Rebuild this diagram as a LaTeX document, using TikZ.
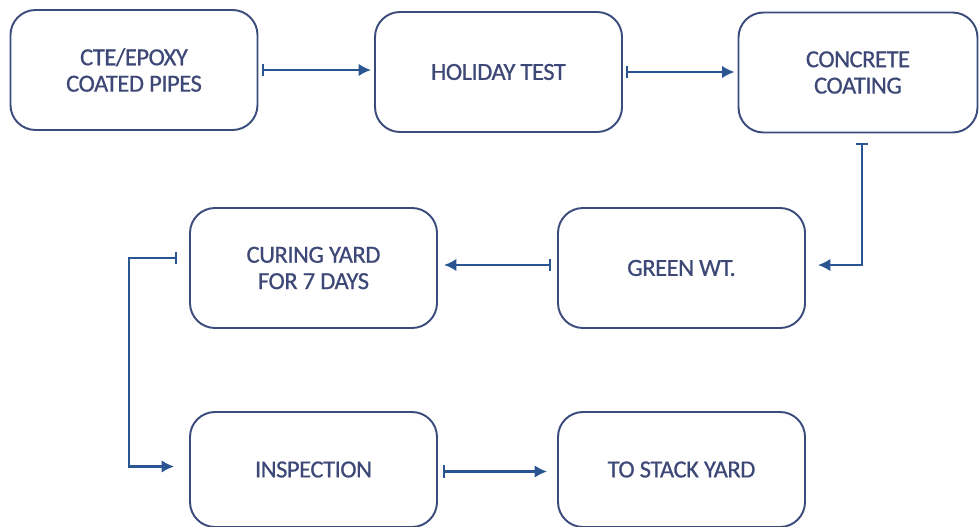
\documentclass[tikz,border=0pt]{standalone}
\usepackage{fontspec}
\setmainfont[FakeBold=0.6, LetterSpace=-2]{Carlito}
\usepackage{xcolor}
\usepackage{tikz}
\usetikzlibrary{arrows.meta, positioning}

\definecolor{boxline}{HTML}{3B4B7C}
\definecolor{flowline}{HTML}{2A5590}
\definecolor{boxtext}{HTML}{3D4877}

\tikzset{
    stage/.style={draw=boxline, line width=1.1pt, rounded corners=0.5cm,
        minimum width=4.94cm, minimum height=2.4cm, align=center,
        text=boxtext, font=\fontsize{14}{15}\selectfont, inner sep=2pt},
    flow/.style={draw=flowline, line width=1.2pt,
        {Bar[width=7pt,line width=1pt]}-{Latex[length=7pt,width=7pt]}}
}

\begin{document}
\begin{tikzpicture}

    \useasboundingbox (0,0) rectangle (19.6,-10.54);

    % ==========================================
    % 1. RIGA SUPERIORE
    % ==========================================
    \node[stage] (cte) at (2.68,-1.40) {CTE/EPOXY\\COATED PIPES};
    \node[stage] (holiday) at (9.97,-1.44) {HOLIDAY TEST};
    \node[stage, minimum width=4.78cm] (concrete) at (17.16,-1.45) {CONCRETE\\COATING};

    % ==========================================
    % 2. RIGA CENTRALE
    % ==========================================
    \node[stage] (green) at (13.63,-5.36) {GREEN WT.};
    \node[stage] (curing) at (6.27,-5.36) {CURING YARD\\FOR 7 DAYS};

    % ==========================================
    % 3. RIGA INFERIORE
    % ==========================================
    \node[stage, minimum height=2.3cm] (inspection) at (6.27,-9.39) {INSPECTION};
    \node[stage, minimum height=2.3cm] (stack) at (13.63,-9.39) {TO STACK YARD};

    % ==========================================
    % 4. LE FRECCE
    % ==========================================
    \draw[flow, shorten <=0.08cm, shorten >=0.06cm] (cte.east) -- (cte.east -| holiday.west);
    \draw[flow, shorten <=0.06cm, shorten >=0.06cm] (holiday.east) -- (holiday.east -| concrete.west);

    % giu' e poi a sinistra
    \draw[flow, shorten <=0.2cm, shorten >=0.24cm] ([xshift=0.08cm]concrete.south) |- ([yshift=0.06cm]green.east);

    \draw[flow, shorten <=0.12cm, shorten >=0.12cm] ([yshift=0.06cm]green.west) -- ([yshift=0.06cm]curing.east);

    % ritorno a sinistra verso INSPECTION
    \draw[flow, shorten <=0.24cm, shorten >=0.3cm] ([yshift=0.2cm]curing.west) -- ++(-1.2,0) |- ([yshift=0.06cm]inspection.west);

    \draw[flow, shorten <=0.1cm, shorten >=0.2cm] ([yshift=-0.04cm]inspection.east) -- ([yshift=-0.04cm]stack.west);

\end{tikzpicture}
\end{document}
